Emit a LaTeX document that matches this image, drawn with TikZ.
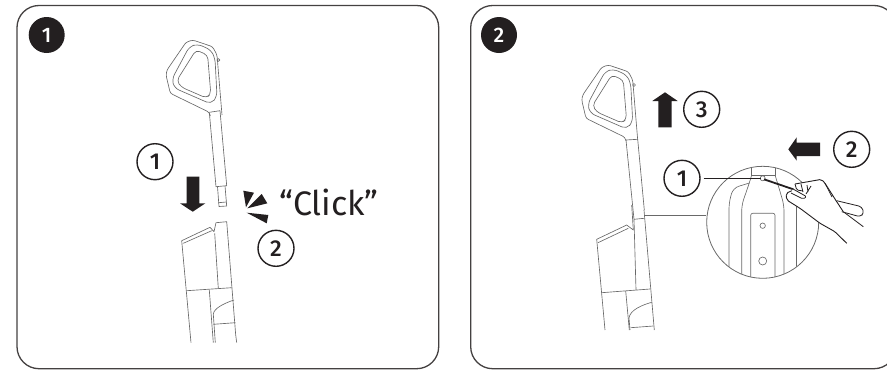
\documentclass[tikz,border=0pt]{standalone}
\usepackage{fontspec}
\setmainfont{Fira Sans}
\newfontfamily\labelfont{Fira Sans Medium}
\definecolor{inkblack}{RGB}{35, 31, 32}
\definecolor{linegray}{RGB}{105, 105, 105}
\usetikzlibrary{positioning, calc}
\tikzset{
    panelbox/.style={draw=inkblack!85, line width=1.3pt, rounded corners=22pt},
    badge/.style={circle, fill=inkblack, text=white, minimum size=36pt, inner sep=0pt, font=\fontsize{21}{21}\selectfont\labelfont},
    stepnum/.style={circle, draw=inkblack, line width=1.4pt, fill=white, text=inkblack, minimum size=36pt, inner sep=0pt, font=\fontsize{23}{23}\selectfont\labelfont},
    part/.style={draw=linegray, line width=0.65pt, line join=round},
    blockarrow/.style={fill=inkblack, draw=none},
    clicktext/.style={font=\fontsize{34}{34}\selectfont, text=inkblack, inner sep=0pt, anchor=base west}
}
\newcommand{\drawhandle}{%
    \draw[part, rounded corners=2.5pt] (637.7,140) -- (632.7,80) -- (628.3,71.7) -- (608.3,65) -- (601.7,67.3) -- (582.7,95) -- (581.7,100) -- (586,118.3) -- (625,137.3) -- (626,141);
    \draw[part, rounded corners=5pt] (605,71.7) -- (613.3,69) -- (626.7,75) -- (630.7,83.3) -- (632.7,121.7) -- (626.7,129) -- (590,113) -- (587.7,104) -- cycle;
    \draw[part, rounded corners=4pt] (611.7,75) -- (623.3,80) -- (626.5,119) -- (622,123) -- (596.7,112) -- (592.5,105.5) -- cycle;
    \draw[part] (634,85) circle (1.5pt);
}
\begin{document}
\begin{tikzpicture}[x=1pt, y=-1pt]
    \useasboundingbox (0,0) rectangle (887,370);
    \clip (0,0) rectangle (887,370);

    % Panels
    \draw[panelbox] (17,5.5) rectangle (438.7,368.7);
    \draw[panelbox] (470.7,5.5) rectangle (896,368.7);
    \node[badge] (badgeone) at (46.7,35) {1};
    \node[badge] (badgetwo) at (499,35) {2};

    % Left panel: handle
    \begin{scope}[shift={(-415.7,-25)}]
        \drawhandle
    \end{scope}
    \draw[part] (209.3,112.3) -- (216,186.7) -- (226.7,185.7) -- (220,110.7);
    \draw[part] (209.3,112.3) -- (220,110.7);
    \draw[part] (217.5,186.6) -- (219,206.5) -- (226.7,206) -- (225,185.8);
    \draw[part] (218.4,202.7) -- (226.4,202);

    % Left panel: body
    \draw[part] (191,342.7) -- (181.7,240.7) -- (210,227.3) -- (214,231.7) -- (216,222.7) -- (226.7,221.7) -- (235.7,335) -- (236.7,342.7);
    \draw[part] (183.3,243.3) -- (211.7,230.7);
    \draw[part] (214.7,233.3) -- (218.3,288.3);
    \draw[part] (186.7,290.7) -- (231.7,287.7);
    \draw[part] (209.3,290) -- (213.3,342.7);
    \draw[part] (234,300) .. controls (225,303) and (214,308) .. (213.3,314) -- (215.3,342.7);
    \draw[part] (213.5,324.3) -- (235.3,322.7);

    % Left panel: arrow, steps, click
    \node[stepnum] (stepleftone) at (155,161.7) {1};
    \draw[blockarrow] (186.7,176.7) -- (199.3,176.7) -- (199.3,203.3) -- (205.3,203.3) -- (192.7,211.7) -- (180,203.3) -- (186.7,203.3) -- cycle;
    \fill[inkblack] (243.3,190.7) -- (254,192.7) -- (246,207.3) -- cycle;
    \fill[inkblack] (247.3,208.3) -- (261.7,194) -- (267.3,203.3) -- cycle;
    \fill[inkblack] (246.7,212.7) -- (268.3,215) -- (266.7,223.3) -- cycle;
    \node[clicktext] (clicklabel) at (279,215.5) {“Click”};
    \node[stepnum] (steplefttwo) at (276,248.3) {2};

    % Right panel: handle
    \drawhandle
    \draw[part] (626,140) -- (637.7,139.3);
    \draw[part] (626,140) -- (634,219.3) -- (636,290);
    \draw[part] (637.7,139.3) -- (644.3,210);

    % Right panel: body
    \draw[part] (605,330) -- (596.7,239.3) -- (626.7,225) -- (633.3,230) -- (631.7,205);
    \draw[part] (634,219.3) -- (644.3,218.3);
    \draw[part] (644,210) -- (654.3,330);
    \draw[part] (598,242.7) -- (628.3,228.3);
    \draw[part] (601.7,292.7) -- (650,289);
    \draw[part] (625.7,291) -- (629.3,330);
    \draw[part] (651.7,302.3) .. controls (642,305) and (630,310) .. (629,318) -- (630,330);
    \draw[part] (630.7,327.7) -- (653.3,326);

    % Right panel: arrows and steps
    \node[stepnum] (steprightthree) at (701.7,109.3) {3};
    \draw[blockarrow] (658.3,127.3) -- (671.7,127.3) -- (671.7,101) -- (677.7,101) -- (665,92.3) -- (652.3,101) -- (658.3,101) -- cycle;
    \node[stepnum] (steprighttwo) at (851.7,149.3) {2};
    \draw[blockarrow] (820,142.7) -- (796.7,142.7) -- (796.7,137.3) -- (788.3,149.3) -- (796.7,160.7) -- (796.7,156) -- (820,156) -- cycle;

    % Detail circle
    \coordinate (shaftpoint) at (644,215.7);
    \node[circle, draw=linegray, line width=0.8pt, minimum size=112pt, inner sep=0pt] (detail) at (762.7,222.3) {};
    \draw[linegray, line width=1.1pt] (shaftpoint) -- (detail.west |- shaftpoint);
    \begin{scope}
        \clip (762.7,222.3) circle (56pt);
        \draw[part] (751.7,160) -- (751.7,175) -- (775,175) -- (775,160);
        \draw[part, rounded corners=6pt] (751.7,175) -- (749.3,183) -- (741.7,205) -- (741.7,285);
        \draw[part, rounded corners=6pt] (775,175) -- (777.5,183) -- (784,205) -- (784,285);
        \draw[part, rounded corners=6pt] (749.5,183) -- (733,188) -- (729,203) -- (729,285);
        \draw[part] (796.7,200) -- (796.7,285);
        \draw[part, rounded corners=2pt] (750.7,285) -- (750.7,213.3) -- (775,213.3) -- (775,285);
        \draw[part] (762.7,225.7) circle (2.7pt);
        \draw[part] (762.7,261) circle (4pt);
        \draw[part] (762.7,178.3) circle (2.5pt);
    \end{scope}

    % Leader and step
    \node[stepnum] (steprightone) at (682,178.3) {1};
    \coordinate (screwpoint) at (761,178.3);
    \draw[inkblack, line width=0.9pt] (steprightone.east) ++(3,0) -- (screwpoint);

    % Hand
    \fill[white] (792,190.7) -- (786,193.3) -- (786.7,200) -- (800,208.3) -- (820,223.3) -- (835,231.7) -- (843,211) -- (825,183.3) -- (821.7,179.3) -- (795,184) -- cycle;
    \draw[part, inkblack, line width=0.9pt, rounded corners=2pt] (792,190.7) -- (786,193.3) -- (786.7,200) -- (800,208.3) -- (820,223.3) -- (835,231.7) -- (846.7,243.3);
    \draw[part, inkblack, line width=0.9pt, rounded corners=2pt] (795,184) -- (821.7,179.3) -- (825,183.3) -- (836.7,201.7) -- (843.3,211.7);
    \draw[part, inkblack, line width=0.7pt] (825,183.3) -- (832,197);
    \draw[part, inkblack, line width=0.8pt, rounded corners=3pt] (836.7,200.7) -- (861.7,206.7) -- (864,213.3) -- (860,216.7) -- (841.7,211.7);
    \draw[part, inkblack, line width=0.8pt] (843.3,211.7) -- (863.3,226.7);
    \draw[inkblack, line width=1.8pt] (764,179.3) -- (793.3,189.3);
    \draw[part, inkblack, line width=0.8pt, fill=white, rounded corners=1.5pt] (793,189) -- (806.7,196.7) -- (803,199) -- (791,193);
    \draw[part, inkblack, line width=0.8pt, rounded corners=1.5pt] (795,184) -- (796.7,190) -- (803,191) (806,194) -- (811,186) (801,184) -- (803,192) (807,185) -- (808,192);
\end{tikzpicture}
\end{document}
